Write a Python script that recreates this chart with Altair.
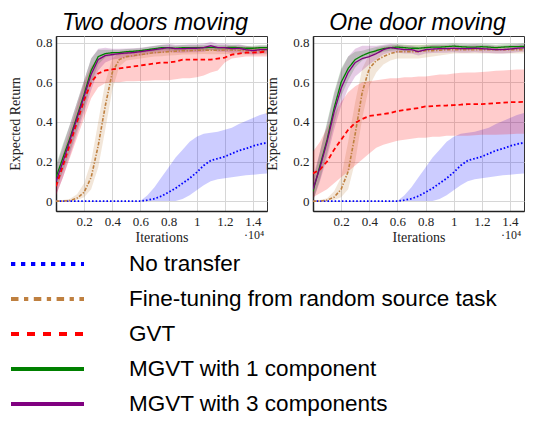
import altair as alt
import pandas as pd

# ---------------- data (iterations in units of 10^4) ----------------
X = [0, 0.05, 0.1, 0.15, 0.2, 0.25, 0.3, 0.35, 0.4, 0.45, 0.5, 0.55, 0.6, 0.65, 0.7,
     0.75, 0.8, 0.85, 0.9, 0.95, 1.0, 1.05, 1.1, 1.15, 1.2, 1.25, 1.3, 1.35, 1.4, 1.45, 1.5]

PANELS = ["Two doors moving", "One door moving"]
SERIES = ["No transfer", "Fine-tuning from random source task", "GVT",
          "MGVT with 1 component", "MGVT with 3 components"]
X_TICKS = [0.2, 0.4, 0.6, 0.8, 1.0, 1.2, 1.4]
Y_TICKS = [0, 0.2, 0.4, 0.6, 0.8]
EXPONENT = "·10⁴"

# No transfer (same in both panels)
NT_MEAN = [0, 0, 0, 0, 0, 0, 0, 0, 0, 0, 0, 0, 0.0, 0.005, 0.012, 0.025, 0.045, 0.065, 0.09,
           0.115, 0.145, 0.18, 0.205, 0.215, 0.225, 0.24, 0.255, 0.265, 0.278, 0.288, 0.295]
NT_LO = [0, 0, 0, 0, 0, 0, 0, 0, 0, 0, 0, 0, 0, 0, 0, 0, 0, 0, 0.01, 0.03, 0.055, 0.08, 0.1,
         0.11, 0.115, 0.12, 0.125, 0.13, 0.133, 0.137, 0.14]
NT_HI = [0, 0, 0, 0, 0, 0, 0, 0, 0, 0, 0, 0, 0, 0.03, 0.07, 0.12, 0.17, 0.22, 0.26, 0.3, 0.325,
         0.34, 0.345, 0.35, 0.36, 0.37, 0.39, 0.405, 0.42, 0.435, 0.445]

# Two doors moving
L_FT_MEAN = [0, 0, 0.003, 0.015, 0.045, 0.12, 0.28, 0.48, 0.65, 0.715, 0.73, 0.735, 0.74, 0.745,
             0.75, 0.752, 0.755, 0.757, 0.76, 0.76, 0.762, 0.763, 0.762, 0.762, 0.763, 0.763,
             0.762, 0.76, 0.76, 0.76, 0.76]
L_FT_LO = [0, 0, 0, 0.005, 0.02, 0.06, 0.17, 0.36, 0.56, 0.68, 0.71, 0.715, 0.72, 0.725, 0.73,
           0.732, 0.735, 0.737, 0.74, 0.74, 0.742, 0.743, 0.742, 0.742, 0.743, 0.743, 0.742,
           0.74, 0.74, 0.74, 0.74]
L_FT_HI = [0.005, 0.005, 0.012, 0.035, 0.09, 0.2, 0.4, 0.6, 0.72, 0.75, 0.755, 0.76, 0.765,
           0.768, 0.772, 0.775, 0.777, 0.78, 0.78, 0.78, 0.782, 0.783, 0.782, 0.782, 0.783,
           0.783, 0.782, 0.78, 0.78, 0.78, 0.78]
L_GVT_MEAN = [0.075, 0.18, 0.29, 0.4, 0.51, 0.6, 0.645, 0.66, 0.665, 0.67, 0.675, 0.68, 0.685,
              0.69, 0.695, 0.7, 0.7, 0.705, 0.715, 0.715, 0.715, 0.715, 0.715, 0.72, 0.725,
              0.74, 0.745, 0.75, 0.75, 0.752, 0.755]
L_GVT_LO = [0.03, 0.12, 0.22, 0.32, 0.42, 0.52, 0.575, 0.595, 0.6, 0.6, 0.605, 0.605, 0.607,
            0.608, 0.61, 0.61, 0.61, 0.615, 0.62, 0.62, 0.625, 0.635, 0.65, 0.66, 0.7, 0.72,
            0.725, 0.73, 0.73, 0.73, 0.73]
L_GVT_HI = [0.12, 0.24, 0.36, 0.48, 0.6, 0.68, 0.72, 0.74, 0.75, 0.755, 0.76, 0.76, 0.762,
            0.764, 0.765, 0.767, 0.768, 0.768, 0.77, 0.77, 0.77, 0.77, 0.772, 0.772, 0.773,
            0.775, 0.775, 0.776, 0.776, 0.777, 0.778]
L_M1_MEAN = [0.12, 0.22, 0.32, 0.43, 0.54, 0.66, 0.73, 0.745, 0.75, 0.75, 0.755, 0.757, 0.76,
             0.765, 0.77, 0.775, 0.775, 0.772, 0.775, 0.775, 0.775, 0.775, 0.777, 0.775, 0.775,
             0.777, 0.775, 0.772, 0.772, 0.775, 0.775]
L_M1_LO = [0.06, 0.15, 0.25, 0.36, 0.47, 0.59, 0.69, 0.725, 0.735, 0.737, 0.742, 0.745, 0.748,
           0.752, 0.757, 0.762, 0.762, 0.76, 0.762, 0.762, 0.762, 0.762, 0.765, 0.762, 0.762,
           0.765, 0.762, 0.76, 0.76, 0.762, 0.762]
L_M1_HI = [0.18, 0.29, 0.39, 0.5, 0.61, 0.72, 0.765, 0.765, 0.765, 0.765, 0.768, 0.77, 0.772,
           0.778, 0.783, 0.788, 0.788, 0.785, 0.788, 0.788, 0.788, 0.788, 0.79, 0.788, 0.788,
           0.79, 0.788, 0.785, 0.785, 0.788, 0.788]
L_M3_MEAN = [0.10, 0.2, 0.31, 0.42, 0.53, 0.64, 0.715, 0.735, 0.74, 0.745, 0.748, 0.75, 0.755,
             0.76, 0.765, 0.77, 0.775, 0.77, 0.77, 0.772, 0.772, 0.775, 0.785, 0.775, 0.775,
             0.77, 0.772, 0.765, 0.76, 0.765, 0.765]
L_M3_LO = [0.03, 0.12, 0.23, 0.34, 0.45, 0.56, 0.66, 0.7, 0.715, 0.72, 0.725, 0.728, 0.735,
           0.74, 0.745, 0.75, 0.755, 0.75, 0.75, 0.752, 0.752, 0.755, 0.765, 0.755, 0.755,
           0.75, 0.752, 0.745, 0.74, 0.745, 0.745]
L_M3_HI = [0.17, 0.28, 0.39, 0.5, 0.61, 0.72, 0.77, 0.775, 0.77, 0.77, 0.771, 0.772, 0.775,
           0.78, 0.785, 0.79, 0.795, 0.79, 0.79, 0.792, 0.792, 0.795, 0.805, 0.795, 0.795,
           0.79, 0.792, 0.785, 0.78, 0.785, 0.785]

# One door moving
R_FT_MEAN = [0, 0, 0.005, 0.02, 0.06, 0.15, 0.34, 0.55, 0.67, 0.71, 0.73, 0.745, 0.755, 0.755,
             0.755, 0.755, 0.76, 0.76, 0.762, 0.765, 0.765, 0.765, 0.765, 0.765, 0.765, 0.765,
             0.765, 0.765, 0.765, 0.765, 0.765]
R_FT_LO = [0, 0, 0, 0.005, 0.02, 0.06, 0.2, 0.42, 0.58, 0.65, 0.69, 0.71, 0.72, 0.72, 0.72,
           0.72, 0.725, 0.73, 0.735, 0.74, 0.745, 0.745, 0.745, 0.745, 0.745, 0.745, 0.745,
           0.745, 0.745, 0.745, 0.745]
R_FT_HI = [0.005, 0.005, 0.015, 0.05, 0.12, 0.3, 0.5, 0.67, 0.74, 0.77, 0.78, 0.785, 0.79,
           0.79, 0.79, 0.79, 0.79, 0.788, 0.788, 0.788, 0.785, 0.785, 0.785, 0.785, 0.785,
           0.785, 0.785, 0.785, 0.785, 0.785, 0.785]
R_GVT_MEAN = [0.14, 0.16, 0.2, 0.26, 0.31, 0.36, 0.395, 0.415, 0.43, 0.435, 0.44, 0.445, 0.455,
              0.46, 0.465, 0.47, 0.478, 0.48, 0.482, 0.483, 0.485, 0.487, 0.49, 0.49, 0.49,
              0.492, 0.495, 0.497, 0.5, 0.5, 0.502]
R_GVT_LO = [0.02, 0.04, 0.06, 0.09, 0.12, 0.15, 0.18, 0.21, 0.24, 0.27, 0.285, 0.295, 0.305,
            0.31, 0.315, 0.32, 0.32, 0.325, 0.325, 0.33, 0.33, 0.33, 0.33, 0.333, 0.335, 0.335,
            0.335, 0.337, 0.338, 0.34, 0.34]
R_GVT_HI = [0.25, 0.3, 0.37, 0.44, 0.5, 0.55, 0.58, 0.6, 0.605, 0.61, 0.615, 0.62, 0.62, 0.625,
            0.625, 0.63, 0.63, 0.635, 0.64, 0.64, 0.645, 0.648, 0.65, 0.65, 0.652, 0.655, 0.658,
            0.66, 0.662, 0.665, 0.665]
R_M1_MEAN = [0.05, 0.18, 0.31, 0.47, 0.6, 0.67, 0.715, 0.735, 0.75, 0.76, 0.77, 0.775, 0.778,
             0.775, 0.772, 0.772, 0.775, 0.778, 0.778, 0.78, 0.783, 0.78, 0.778, 0.778, 0.78,
             0.778, 0.775, 0.778, 0.78, 0.78, 0.782]
R_M1_LO = [0.0, 0.11, 0.24, 0.39, 0.53, 0.61, 0.675, 0.71, 0.73, 0.742, 0.755, 0.76, 0.763,
           0.76, 0.757, 0.757, 0.76, 0.763, 0.763, 0.765, 0.768, 0.765, 0.763, 0.763, 0.765,
           0.763, 0.76, 0.763, 0.765, 0.765, 0.767]
R_M1_HI = [0.1, 0.25, 0.4, 0.55, 0.67, 0.73, 0.755, 0.76, 0.77, 0.778, 0.785, 0.79, 0.793,
           0.79, 0.787, 0.787, 0.79, 0.793, 0.793, 0.795, 0.798, 0.795, 0.793, 0.793, 0.795,
           0.793, 0.79, 0.793, 0.795, 0.795, 0.797]
R_M3_MEAN = [0.06, 0.17, 0.3, 0.45, 0.57, 0.65, 0.7, 0.72, 0.73, 0.745, 0.765, 0.775, 0.77,
             0.765, 0.765, 0.755, 0.765, 0.768, 0.77, 0.77, 0.772, 0.77, 0.77, 0.772, 0.77,
             0.768, 0.765, 0.765, 0.768, 0.772, 0.775]
R_M3_LO = [0.0, 0.1, 0.22, 0.36, 0.48, 0.57, 0.63, 0.66, 0.69, 0.715, 0.74, 0.752, 0.75, 0.745,
           0.745, 0.735, 0.745, 0.748, 0.75, 0.75, 0.752, 0.75, 0.75, 0.752, 0.75, 0.748,
           0.745, 0.745, 0.748, 0.752, 0.755]
R_M3_HI = [0.12, 0.25, 0.39, 0.54, 0.66, 0.73, 0.77, 0.785, 0.785, 0.785, 0.79, 0.795, 0.79,
           0.785, 0.785, 0.775, 0.785, 0.788, 0.79, 0.79, 0.792, 0.79, 0.79, 0.792, 0.79,
           0.788, 0.785, 0.785, 0.788, 0.792, 0.795]

# ---------------- styles ----------------
COLORS = ["#0000ff", "#bf8040", "#ff0000", "#008000", "#800080"]
PLOT_DASH = [[1.6, 2.0], [3.5, 1.6, 1.3, 1.6], [4.5, 3.0], [1, 0], [1, 0]]
PLOT_WIDTH = [1.8, 1.6, 1.8, 1.3, 1.3]
LEG_DASH = [[4.3, 5.7], [7.5, 5.5, 4.3, 5.5], [8, 8], [1, 0], [1, 0]]
SERIF = "Liberation Serif"
SANS = "Liberation Sans"
W, H = 211, 175
TITLE_X = [99, 104.5]

CURVES = {
    PANELS[0]: [(NT_MEAN, NT_LO, NT_HI), (L_FT_MEAN, L_FT_LO, L_FT_HI),
                (L_GVT_MEAN, L_GVT_LO, L_GVT_HI), (L_M1_MEAN, L_M1_LO, L_M1_HI),
                (L_M3_MEAN, L_M3_LO, L_M3_HI)],
    PANELS[1]: [(NT_MEAN, NT_LO, NT_HI), (R_FT_MEAN, R_FT_LO, R_FT_HI),
                (R_GVT_MEAN, R_GVT_LO, R_GVT_HI), (R_M1_MEAN, R_M1_LO, R_M1_HI),
                (R_M3_MEAN, R_M3_LO, R_M3_HI)],
}

xscale = alt.Scale(domain=[0, 1.5], nice=False, zero=False)
yscale = alt.Scale(domain=[-0.05, 0.834], nice=False, zero=False)
xaxis = alt.Axis(values=X_TICKS, format=".1~f", title="Iterations", grid=True)
yaxis = alt.Axis(values=Y_TICKS, format=".1~f", title="Expected Return", grid=True)


def panel(k, with_legend):
    name = PANELS[k]
    bands, lines = [], []
    for i, s in enumerate(SERIES):
        mean, lo, hi = CURVES[name][i]
        df = pd.DataFrame({"x": X, "mean": mean, "lo": lo, "hi": hi})
        base = alt.Chart(df)
        bands.append(base.mark_area(opacity=0.2, color=COLORS[i], clip=True).encode(
            x=alt.X("x:Q", scale=xscale, axis=xaxis),
            y=alt.Y("lo:Q", scale=yscale, axis=yaxis),
            y2="hi:Q"))
        lines.append(base.mark_line(color=COLORS[i], strokeWidth=PLOT_WIDTH[i],
                                    strokeDash=PLOT_DASH[i], clip=True).encode(
            x=alt.X("x:Q", scale=xscale, axis=xaxis),
            y=alt.Y("mean:Q", scale=yscale, axis=yaxis)))
    expo = alt.Chart(pd.DataFrame({"t": [EXPONENT]})).mark_text(
        font=SERIF, fontSize=12, align="center", baseline="alphabetic", color="#222"
    ).encode(text="t:N", x=alt.value(W - 13), y=alt.value(H + 28))
    title = alt.Chart(pd.DataFrame({"t": [name]})).mark_text(
        font=SANS, fontSize=23, fontStyle="italic", align="center", baseline="alphabetic",
        color="black"
    ).encode(text="t:N", x=alt.value(TITLE_X[k]), y=alt.value(-6))
    plots = alt.layer(*bands, *lines, expo, title)
    if not with_legend:
        return plots.properties(width=W, height=H)
    leg = pd.DataFrame({"series": SERIES})
    ly = alt.Y("series:N", scale=alt.Scale(type="point", domain=SERIES, range=[228, 368],
                                           padding=0), axis=None)
    rules = alt.Chart(leg).mark_rule(strokeWidth=4).encode(
        y=ly, x=alt.value(-45), x2=alt.value(28),
        color=alt.Color("series:N", scale=alt.Scale(domain=SERIES, range=COLORS), legend=None),
        strokeDash=alt.StrokeDash("series:N", scale=alt.Scale(domain=SERIES, range=LEG_DASH),
                                  legend=None))
    texts = alt.Chart(leg).mark_text(align="left", baseline="middle", font=SANS,
                                     fontSize=22.5, color="black").encode(
        y=ly, x=alt.value(73), text="series:N")
    legend = alt.layer(rules, texts)
    return alt.layer(plots, legend).resolve_scale(y="independent").properties(
        width=W, height=H)


chart = alt.hconcat(panel(0, True), panel(1, False),
                    spacing=46, bounds="flush").properties(
    padding={"left": 0, "top": 3, "right": 0, "bottom": 0}
).configure_view(stroke="#333", strokeWidth=1).configure_axis(
    labelFont=SERIF, labelFontSize=13, labelColor="#222", labelPadding=4,
    titleFont=SERIF, titleFontSize=14, titleFontWeight="normal", titleColor="#222",
    ticks=False, domainColor="#222", domainWidth=1.5, gridColor="#d6d6d6", gridWidth=1
).configure_axisY(titlePadding=13).configure_axisX(titlePadding=2)

chart.save("out.html", embed_options={"renderer": "svg", "actions": False})
